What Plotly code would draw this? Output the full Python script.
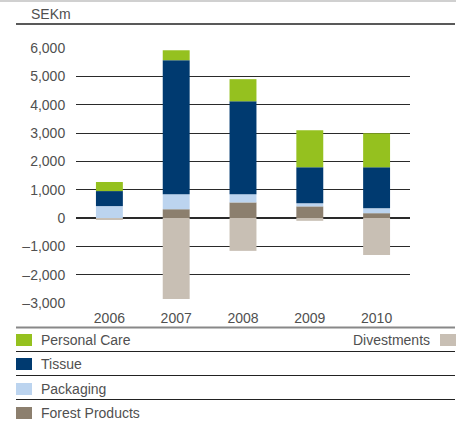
import plotly.graph_objects as go

years = ["2006", "2007", "2008", "2009", "2010"]
forest_products = [0, 310, 550, 410, 170]
packaging = [420, 530, 290, 110, 170]
tissue = [530, 4730, 3280, 1270, 1450]
personal_care = [320, 350, 780, 1310, 1200]
divestments = [-60, -2860, -1160, -100, -1310]

tick_vals = [-3000, -2000, -1000, 0, 1000, 2000, 3000, 4000, 5000, 6000]
tick_text = ["–3,000", "–2,000", "–1,000", "0", "1,000", "2,000", "3,000", "4,000", "5,000", "6,000"]

colors = {
    "Forest Products": "#8c7f6e",
    "Packaging": "#bcd4ef",
    "Tissue": "#003a70",
    "Personal Care": "#95c11f",
    "Divestments": "#c8bfb4",
}

FONT = "Liberation Sans, Arial, sans-serif"
TXT = "#505050"

fig = go.Figure()
for name, vals in [("Forest Products", forest_products), ("Packaging", packaging),
                   ("Tissue", tissue), ("Personal Care", personal_care),
                   ("Divestments", divestments)]:
    fig.add_trace(go.Bar(x=years, y=vals, name=name, marker_color=colors[name],
                         marker_line_width=0, showlegend=False))

W, H = 456, 423
ml, mr, mt, mb = 76, 46, 48, 120
pw, ph = W - ml - mr, H - mt - mb

def px(x):
    return (x - ml) / pw

def py(y):
    return (H - mb - y) / ph

shapes = []
shapes.append(dict(type="line", xref="paper", yref="paper", x0=px(0), x1=px(W),
                   y0=py(1), y1=py(1), line=dict(color="#d0d0d0", width=2)))
shapes.append(dict(type="line", xref="paper", yref="paper", x0=px(16), x1=px(455),
                   y0=py(24), y1=py(24), line=dict(color="#222222", width=1.5)))
shapes.append(dict(type="line", xref="paper", yref="paper", x0=px(16), x1=px(455),
                   y0=py(327.5), y1=py(327.5), line=dict(color="#888888", width=2)))
for yy in [351.5, 375.5, 399.5]:
    shapes.append(dict(type="line", xref="paper", yref="paper", x0=px(16), x1=px(455),
                       y0=py(yy), y1=py(yy), line=dict(color="#222222", width=1)))

annotations = [dict(text="SEKm", xref="paper", yref="paper", x=px(29), y=py(14),
                    xanchor="left", yanchor="middle", showarrow=False,
                    font=dict(family=FONT, size=14, color=TXT))]

legend_left = [("Personal Care", 340), ("Tissue", 364), ("Packaging", 389), ("Forest Products", 413)]
for name, yc in legend_left:
    shapes.append(dict(type="rect", xref="paper", yref="paper", x0=px(16), x1=px(32),
                       y0=py(yc - 6), y1=py(yc + 6), fillcolor=colors[name], line_width=0))
    annotations.append(dict(text=name, xref="paper", yref="paper", x=px(39), y=py(yc),
                            xanchor="left", yanchor="middle", showarrow=False,
                            font=dict(family=FONT, size=14, color=TXT)))
shapes.append(dict(type="rect", xref="paper", yref="paper", x0=px(440), x1=px(456),
                   y0=py(334), y1=py(346), fillcolor=colors["Divestments"], line_width=0))
annotations.append(dict(text="Divestments", xref="paper", yref="paper", x=px(432), y=py(340),
                        xanchor="right", yanchor="middle", showarrow=False,
                        font=dict(family=FONT, size=14, color=TXT)))

fig.update_layout(
    width=W, height=H,
    margin=dict(l=ml, r=mr, t=mt, b=mb, pad=0),
    paper_bgcolor="white", plot_bgcolor="white",
    barmode="relative", bargap=0.597,
    showlegend=False,
    font=dict(family=FONT, size=14, color=TXT),
    shapes=shapes, annotations=annotations,
    xaxis=dict(type="category", range=[-0.5, 4.5], showgrid=False, showline=False,
               ticks="outside", ticklen=2, tickcolor="rgba(0,0,0,0)",
               tickfont=dict(family=FONT, size=14, color=TXT), fixedrange=True),
    yaxis=dict(range=[-3000, 6000], tickvals=tick_vals, ticktext=tick_text,
               showgrid=True, gridcolor="#2a2a2a", gridwidth=1,
               zeroline=True, zerolinecolor="#2a2a2a", zerolinewidth=1.5,
               showline=False, ticks="outside", ticklen=7, tickcolor="rgba(0,0,0,0)",
               tickfont=dict(family=FONT, size=14, color=TXT), fixedrange=True),
)

fig.write_html("out.html")
